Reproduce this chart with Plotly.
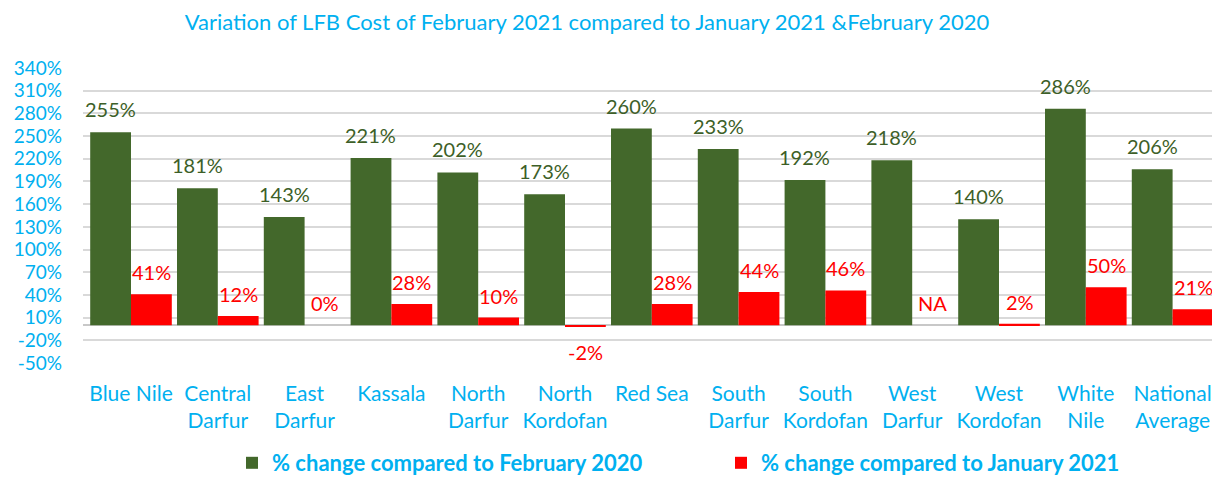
import plotly.graph_objects as go

categories = ["Blue Nile", "Central Darfur", "East Darfur", "Kassala", "North Darfur",
              "North Kordofan", "Red Sea", "South Darfur", "South Kordofan", "West Darfur",
              "West Kordofan", "White Nile", "National Average"]
tick_labels = ["Blue Nile", "Central<br>Darfur", "East<br>Darfur", "Kassala", "North<br>Darfur",
               "North<br>Kordofan", "Red Sea", "South<br>Darfur", "South<br>Kordofan", "West<br>Darfur",
               "West<br>Kordofan", "White<br>Nile", "National<br>Average"]
vs_feb_2020 = [255, 181, 143, 221, 202, 173, 260, 233, 192, 218, 140, 286, 206]
vs_jan_2021 = [41, 12, 0, 28, 10, -2, 28, 44, 46, None, 2, 50, 21]
series_names = ["% change compared to February 2020", "% change compared to January 2021"]
y_ticks = list(range(-50, 341, 30))

GREEN = "#43682B"
GREEN_TXT = "#3D5F28"
RED = "#FF0000"
BLUE = "#00B0F0"
FONT = "Lato"

# page body has an 8px margin, so the figure is drawn 8px smaller
W, H = 1212, 469

fig = go.Figure()
fig.add_trace(go.Bar(x=categories, y=vs_feb_2020, name=series_names[0],
                     marker=dict(color=GREEN, line=dict(width=0))))
fig.add_trace(go.Bar(x=categories, y=vs_jan_2021, name=series_names[1],
                     marker=dict(color=RED, line=dict(width=0))))

half = 20.5
for c, v in zip(categories, vs_feb_2020):
    fig.add_annotation(x=c, y=v, text=f"{v}%", showarrow=False, xshift=-half, yshift=23,
                       font=dict(family=FONT, size=20, color=GREEN_TXT), yanchor="middle")
for c, v in zip(categories, vs_jan_2021):
    if v is None:
        txt, yv, ys = "NA", 0, 22
    elif v < 0:
        txt, yv, ys = f"{v}%", v, -25
    else:
        txt, yv, ys = f"{v}%", v, 22
    fig.add_annotation(x=c, y=yv, text=txt, showarrow=False, xshift=half, yshift=ys,
                       font=dict(family=FONT, size=20, color=RED), yanchor="middle")

fig.update_layout(
    width=W, height=H,
    margin=dict(l=75, r=4, t=60, b=114, autoexpand=False),
    paper_bgcolor="white", plot_bgcolor="white",
    barmode="group", bargap=0.06, bargroupgap=0,
    font=dict(family=FONT, size=18, color=BLUE),
    title=dict(text="Variation of LFB Cost of February 2021 compared to January 2021 &February 2020",
               x=579 / W, xref="container", xanchor="center",
               y=1 - 14 / H, yref="container", yanchor="middle",
               font=dict(family=FONT, size=22, color=BLUE)),
    legend=dict(orientation="h", x=224 / W, xref="container", xanchor="left",
                y=(355 - 455) / 295, yref="paper", yanchor="middle",
                font=dict(family=FONT, size=22, color=BLUE, weight="bold"),
                itemwidth=30, traceorder="normal",
                entrywidthmode="pixels", entrywidth=444),
    showlegend=True,
)
fig.update_yaxes(range=[-50, 340], tickvals=y_ticks, ticktext=[f"{t}%" for t in y_ticks],
                 showgrid=True, gridcolor="#D9D9D9", gridwidth=2,
                 zeroline=True, zerolinecolor="#C8C8C8", zerolinewidth=2,
                 ticks="", ticklabelstandoff=20,
                 tickfont=dict(family=FONT, size=19, color=BLUE))
fig.update_xaxes(tickvals=categories, ticktext=tick_labels, showgrid=False, showline=False,
                 ticks="", ticklabelstandoff=16,
                 tickfont=dict(family=FONT, size=21, color=BLUE))

fig.write_html("out.html")
